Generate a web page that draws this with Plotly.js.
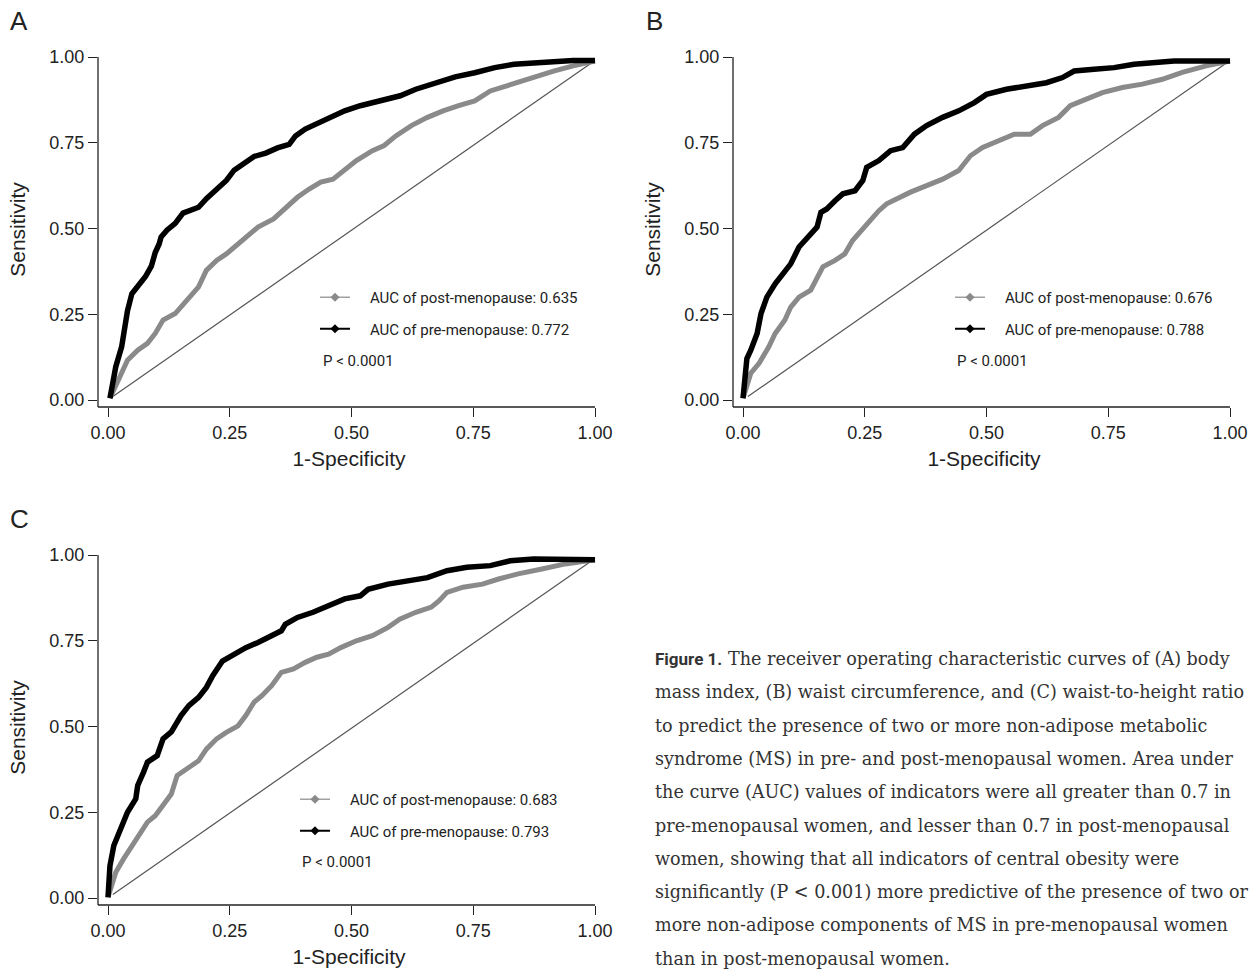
<!DOCTYPE html>
<html>
<head>
<meta charset="utf-8">
<script src="https://cdn.plot.ly/plotly-3.0.1.min.js"></script>
<style>html,body{margin:0;padding:0;background:#fff;}#chart{width:1258px;height:969px;}</style>
</head>
<body>
<div id="chart"></div>
<script>
// ---------- DATA ----------
const tickVals = [0, 0.25, 0.5, 0.75, 1];
const tickLabels = ['0.00', '0.25', '0.50', '0.75', '1.00'];
const diagFpr = [0.01, 1.0];
const diagTpr = [0.01, 0.99];

// (A) body mass index
const fprA_post = [0.004,0.024,0.04,0.061,0.081,0.097,0.113,0.138,0.162,0.186,0.202,0.223,0.243,0.259,0.283,0.308,0.34,0.364,0.389,0.413,0.437,0.462,0.486,0.51,0.543,0.567,0.591,0.623,0.656,0.688,0.72,0.753,0.785,0.818,0.85,0.883,0.915,0.955,1.0];
const tprA_post = [0.005,0.068,0.116,0.145,0.165,0.194,0.233,0.252,0.291,0.33,0.378,0.407,0.426,0.446,0.475,0.504,0.528,0.557,0.591,0.615,0.635,0.644,0.669,0.698,0.727,0.742,0.77,0.8,0.824,0.843,0.858,0.872,0.901,0.916,0.93,0.945,0.959,0.974,0.988];
const fprA_pre = [0.004,0.016,0.028,0.04,0.049,0.06,0.077,0.089,0.097,0.105,0.109,0.121,0.138,0.154,0.166,0.186,0.202,0.223,0.243,0.259,0.275,0.3,0.324,0.348,0.372,0.385,0.405,0.429,0.453,0.486,0.518,0.559,0.6,0.632,0.672,0.713,0.753,0.794,0.834,0.875,0.915,0.955,1.0];
const tprA_pre = [0.005,0.097,0.155,0.26,0.31,0.33,0.36,0.39,0.43,0.455,0.475,0.495,0.515,0.545,0.552,0.562,0.587,0.615,0.64,0.67,0.685,0.71,0.72,0.735,0.745,0.77,0.79,0.805,0.824,0.843,0.858,0.872,0.887,0.906,0.925,0.942,0.954,0.969,0.979,0.984,0.988,0.99,0.99];

// (B) waist circumference
const fprB_post = [0,0.016,0.033,0.053,0.066,0.086,0.098,0.115,0.139,0.152,0.164,0.189,0.209,0.225,0.242,0.262,0.279,0.295,0.32,0.344,0.377,0.41,0.443,0.467,0.492,0.525,0.557,0.59,0.615,0.648,0.672,0.705,0.738,0.779,0.82,0.861,0.902,0.951,1.0];
const tprB_post = [0.005,0.078,0.107,0.155,0.194,0.233,0.271,0.3,0.32,0.359,0.388,0.407,0.426,0.465,0.494,0.523,0.552,0.572,0.591,0.606,0.625,0.644,0.669,0.712,0.736,0.756,0.775,0.775,0.8,0.824,0.858,0.877,0.896,0.911,0.921,0.935,0.955,0.974,0.988];
const fprB_pre = [0,0.008,0.016,0.029,0.037,0.049,0.066,0.082,0.098,0.115,0.135,0.152,0.16,0.172,0.189,0.205,0.23,0.246,0.254,0.279,0.303,0.328,0.352,0.377,0.41,0.443,0.475,0.5,0.541,0.582,0.623,0.656,0.68,0.721,0.762,0.803,0.836,0.885,0.934,1.0];
const tprB_pre = [0.005,0.121,0.145,0.194,0.252,0.3,0.339,0.368,0.397,0.446,0.475,0.504,0.547,0.557,0.581,0.601,0.61,0.64,0.678,0.698,0.727,0.736,0.775,0.8,0.824,0.843,0.867,0.891,0.906,0.915,0.925,0.94,0.959,0.964,0.969,0.979,0.984,0.988,0.988,0.988];

// (C) waist-to-height ratio
const fprC_post = [0,0.016,0.032,0.049,0.065,0.081,0.097,0.113,0.13,0.142,0.162,0.186,0.202,0.223,0.243,0.267,0.283,0.3,0.316,0.336,0.356,0.381,0.405,0.429,0.453,0.478,0.51,0.543,0.575,0.599,0.632,0.664,0.68,0.696,0.729,0.769,0.802,0.842,0.891,0.939,1.0];
const tprC_post = [0.002,0.075,0.114,0.153,0.191,0.221,0.24,0.269,0.303,0.357,0.376,0.4,0.434,0.464,0.483,0.502,0.532,0.571,0.59,0.619,0.658,0.668,0.687,0.702,0.711,0.73,0.75,0.765,0.789,0.813,0.833,0.848,0.867,0.891,0.906,0.915,0.93,0.945,0.959,0.974,0.986];
const fprC_pre = [0,0.004,0.012,0.028,0.04,0.057,0.061,0.073,0.081,0.101,0.113,0.13,0.15,0.166,0.186,0.202,0.215,0.235,0.259,0.283,0.308,0.332,0.356,0.364,0.389,0.421,0.453,0.486,0.518,0.534,0.575,0.623,0.656,0.696,0.737,0.785,0.826,0.874,0.931,1.0];
const tprC_pre = [0.002,0.094,0.153,0.211,0.25,0.289,0.328,0.367,0.396,0.415,0.464,0.484,0.532,0.561,0.585,0.614,0.648,0.691,0.711,0.73,0.745,0.764,0.779,0.798,0.818,0.833,0.852,0.872,0.881,0.9,0.915,0.925,0.934,0.954,0.964,0.969,0.983,0.988,0.988,0.986];

const panelLetters = ['A', 'B', 'C'];
const postLabels = ['AUC of post-menopause: 0.635', 'AUC of post-menopause: 0.676', 'AUC of post-menopause: 0.683'];
const preLabels = ['AUC of pre-menopause: 0.772', 'AUC of pre-menopause: 0.788', 'AUC of pre-menopause: 0.793'];
const pLabel = 'P < 0.0001';
const xTitle = '1-Specificity';
const yTitle = 'Sensitivity';
const captionHead = 'Figure 1.';
const captionLines = [
  'The receiver operating characteristic curves of (A) body',
  'mass index, (B) waist circumference, and (C) waist-to-height ratio',
  'to predict the presence of two or more non-adipose metabolic',
  'syndrome (MS) in pre- and post-menopausal women. Area under',
  'the curve (AUC) values of indicators were all greater than 0.7 in',
  'pre-menopausal women, and lesser than 0.7 in post-menopausal',
  'women, showing that all indicators of central obesity were',
  'significantly (P &lt; 0.001) more predictive of the presence of two or',
  'more non-adipose components of MS in pre-menopausal women',
  'than in post-menopausal women.'
];

// ---------- LAYOUT HELPERS ----------
const W = 1258, H = 969;
const px = v => v / W;
const py = v => 1 - v / H;
const XPU = 487, YPU = 343;               // pixels per data unit
const xRange = [-10 / XPU, 1 + 5 / XPU];
const yRange = [-7 / YPU, 1 + 5 / YPU];
const panels = [
  {left: 98, top: 52},
  {left: 733, top: 52},
  {left: 98, top: 550}
];
const sans = 'Liberation Sans, Arial, sans-serif';
const legFont = 'Roboto, Liberation Sans, sans-serif';
const NB = '\u00A0\u00A0\u00A0\u00A0';

const data = [];
const layout = {
  width: W, height: H,
  margin: {l: 0, r: 0, t: 0, b: 0},
  paper_bgcolor: '#fff', plot_bgcolor: '#fff',
  showlegend: true,
  shapes: [], annotations: []
};

const series = [
  [fprA_post, tprA_post, fprA_pre, tprA_pre],
  [fprB_post, tprB_post, fprB_pre, tprB_pre],
  [fprC_post, tprC_post, fprC_pre, tprC_pre]
];
const legendPos = [
  {lx: 315, ly: 281, px: 321, pyy: 361},
  {lx: 950, ly: 281, px: 955, pyy: 361},
  {lx: 295, ly: 783, px: 300, pyy: 862}
];

panels.forEach((p, i) => {
  const n = i + 1;
  const xa = n === 1 ? 'x' : 'x' + n;
  const ya = n === 1 ? 'y' : 'y' + n;
  const xkey = n === 1 ? 'xaxis' : 'xaxis' + n;
  const ykey = n === 1 ? 'yaxis' : 'yaxis' + n;
  const lkey = n === 1 ? 'legend' : 'legend' + n;
  const pw = (xRange[1] - xRange[0]) * XPU;
  const ph = (yRange[1] - yRange[0]) * YPU;
  const axCommon = {
    showgrid: false, zeroline: false, showline: false,
    ticks: 'outside', ticklen: 9, tickwidth: 1, tickcolor: '#222',
    tickvals: tickVals, ticktext: tickLabels,
    tickfont: {family: sans, size: 18, color: '#222'},
    fixedrange: true
  };
  layout[xkey] = Object.assign({}, axCommon, {
    domain: [px(p.left), px(p.left + pw)], range: xRange, anchor: ya,
    title: {text: xTitle, font: {family: sans, size: 21, color: '#222'}, standoff: 9}
  });
  layout[ykey] = Object.assign({}, axCommon, {
    domain: [py(p.top + ph), py(p.top)], range: yRange, anchor: xa,
    title: {text: yTitle, font: {family: sans, size: 21, color: '#222'}, standoff: 18}
  });
  layout.shapes.push({type: 'line', xref: xa + ' domain', yref: ya, x0: 0, x1: 0, y0: yRange[0], y1: tickVals[4], line: {color: '#222', width: 1.3}});
  layout.shapes.push({type: 'line', xref: xa, yref: ya + ' domain', x0: xRange[0], x1: tickVals[4], y0: 0, y1: 0, line: {color: '#222', width: 1.3}});

  const s = series[i];
  data.push({x: diagFpr, y: diagTpr, xaxis: xa, yaxis: ya, mode: 'lines', line: {color: '#555', width: 1.2}, showlegend: false, hoverinfo: 'skip'});
  data.push({x: s[0], y: s[1], xaxis: xa, yaxis: ya, mode: 'lines', line: {color: '#8a8a8a', width: 5}, showlegend: false, name: postLabels[i]});
  data.push({x: s[2], y: s[3], xaxis: xa, yaxis: ya, mode: 'lines', line: {color: '#000', width: 5.5}, showlegend: false, name: preLabels[i]});
  data.push({x: [null], y: [null], xaxis: xa, yaxis: ya, mode: 'lines+markers', name: NB + postLabels[i], legend: lkey, legendgroup: 'post' + n,
    line: {color: '#a0a0a0', width: 1.5}, marker: {symbol: 'diamond', size: 7, color: '#8a8a8a'}});
  data.push({x: [null], y: [null], xaxis: xa, yaxis: ya, mode: 'lines+markers', name: NB + preLabels[i], legend: lkey, legendgroup: 'pre' + n,
    line: {color: '#000', width: 2}, marker: {symbol: 'diamond', size: 7, color: '#000'}});

  const lp = legendPos[i];
  layout[lkey] = {
    x: px(lp.lx), y: py(lp.ly), xanchor: 'left', yanchor: 'top',
    bgcolor: 'rgba(0,0,0,0)', borderwidth: 0,
    font: {family: legFont, size: 15, color: '#222'},
    tracegroupgap: 9, traceorder: 'grouped', itemclick: false, itemdoubleclick: false
  };
  layout.annotations.push({xref: 'paper', yref: 'paper', x: px(lp.px), y: py(lp.pyy), xanchor: 'left', yanchor: 'middle', showarrow: false,
    text: pLabel.replace('<', '&lt;'), font: {family: legFont, size: 15, color: '#222'}});
  layout.annotations.push({xref: 'paper', yref: 'paper', x: px(p.left - 79), y: py(p.top - 31), xanchor: 'center', yanchor: 'middle', showarrow: false,
    text: panelLetters[i], font: {family: sans, size: 26, color: '#222'}});
});

// caption
const capTop = 659, capStep = 33.3;
layout.annotations.push({xref: 'paper', yref: 'paper', x: px(653), y: py(capTop), xanchor: 'left', yanchor: 'middle', showarrow: false,
  text: '<b>' + captionHead + '</b>', font: {family: 'Roboto, sans-serif', size: 17, color: '#333'}});
captionLines.forEach((t, k) => {
  layout.annotations.push({xref: 'paper', yref: 'paper', x: px(k === 0 ? 726 : 653), y: py(capTop + k * capStep), xanchor: 'left', yanchor: 'middle', showarrow: false,
    text: t, font: {family: 'DejaVu Serif, serif', size: 17.6, color: '#333'}});
});

Plotly.newPlot('chart', data, layout, {displayModeBar: false, staticPlot: true});
</script>
</body>
</html>
